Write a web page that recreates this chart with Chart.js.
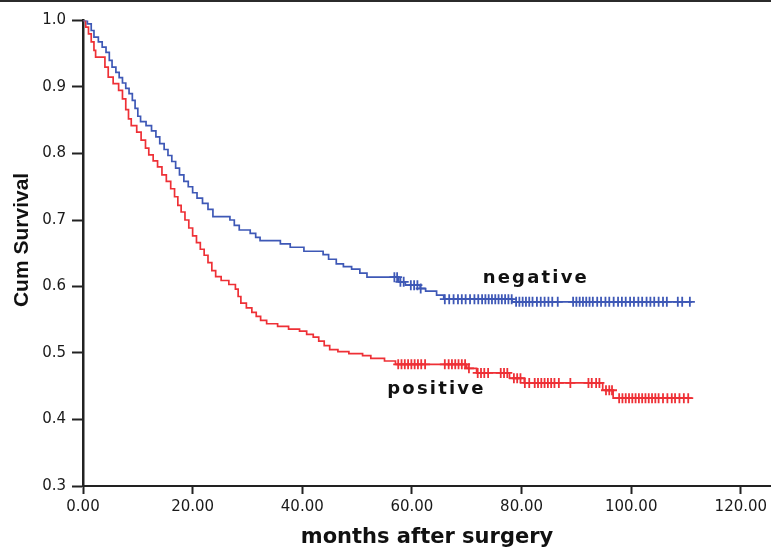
<!DOCTYPE html>
<html>
<head>
<meta charset="utf-8">
<script src="https://cdn.jsdelivr.net/npm/chart.js@4.4.1/dist/chart.umd.min.js"></script>
<style>
  html, body { margin: 0; padding: 0; background: #ffffff; overflow: hidden; }
  #wrap { width: 771px; height: 549px; position: relative; }
</style>
</head>
<body>
<div id="wrap"><canvas id="c" width="771" height="549"></canvas></div>
<script>
// ---- Data ----
const negTimes = [0, 0.8, 1.5, 2.0, 2.8, 3.5, 4.2, 4.8, 5.3, 6.0, 6.6, 7.2, 7.8, 8.4, 9.0, 9.5, 10.0, 10.5, 11.5, 12.5, 13.3, 14.0, 14.8, 15.5, 16.2, 16.9, 17.6, 18.4, 19.2, 20.0, 20.8, 21.8, 22.8, 23.7, 26.8, 27.6, 28.5, 30.5, 31.5, 32.3, 36.0, 37.8, 40.3, 43.8, 44.8, 46.2, 47.5, 49.0, 50.5, 51.8, 57.6, 58.8, 61.5, 62.5, 64.5, 65.8, 78.3, 111.1];
const negSurv  = [1.0, 0.995, 0.985, 0.975, 0.968, 0.960, 0.952, 0.940, 0.930, 0.922, 0.914, 0.906, 0.898, 0.890, 0.880, 0.868, 0.856, 0.848, 0.842, 0.834, 0.825, 0.815, 0.806, 0.797, 0.788, 0.778, 0.768, 0.758, 0.750, 0.741, 0.733, 0.725, 0.716, 0.705, 0.700, 0.692, 0.685, 0.680, 0.674, 0.669, 0.664, 0.659, 0.653, 0.648, 0.641, 0.634, 0.630, 0.626, 0.620, 0.614, 0.607, 0.602, 0.597, 0.593, 0.587, 0.581, 0.577, 0.577];

const posTimes = [0, 0.5, 1.0, 1.5, 2.0, 2.3, 4.0, 4.6, 5.5, 6.5, 7.2, 7.8, 8.3, 8.8, 9.8, 10.6, 11.4, 12.0, 12.8, 13.6, 14.4, 15.2, 16.0, 16.7, 17.3, 17.9, 18.6, 19.3, 20.0, 20.7, 21.4, 22.1, 22.8, 23.5, 24.2, 25.2, 26.6, 27.8, 28.3, 28.8, 29.8, 30.8, 31.6, 32.4, 33.5, 35.5, 37.5, 39.5, 40.8, 42.0, 43.0, 44.0, 45.0, 46.5, 48.5, 51.0, 52.5, 55.0, 57.0, 70.0, 71.8, 77.8, 80.5, 94.8, 96.7, 111.1];
const posSurv  = [1.0, 0.990, 0.980, 0.968, 0.955, 0.945, 0.930, 0.915, 0.905, 0.895, 0.882, 0.866, 0.852, 0.842, 0.832, 0.820, 0.808, 0.798, 0.789, 0.780, 0.768, 0.758, 0.747, 0.735, 0.722, 0.712, 0.700, 0.688, 0.676, 0.666, 0.656, 0.647, 0.636, 0.624, 0.615, 0.609, 0.603, 0.596, 0.585, 0.575, 0.568, 0.561, 0.555, 0.549, 0.544, 0.540, 0.536, 0.533, 0.528, 0.524, 0.518, 0.511, 0.505, 0.502, 0.499, 0.496, 0.492, 0.488, 0.483, 0.477, 0.470, 0.462, 0.455, 0.444, 0.432, 0.432];

// censored observation times (the "+" marks)
const negCensor = [56.8, 57.3, 57.9, 58.5, 59.8, 60.4, 61.0, 61.6, 66.0, 66.8, 67.6, 68.4, 69.1, 69.8, 70.6, 71.4, 72.1, 72.8, 73.4, 74.0, 74.6, 75.2, 75.8, 76.4, 77.0, 77.6, 78.2, 79.0, 79.6, 80.2, 80.8, 81.4, 82.0, 82.8, 83.5, 84.2, 84.9, 85.6, 86.6, 89.4, 90.0, 90.6, 91.2, 91.8, 92.4, 93.0, 93.8, 94.5, 95.3, 96.0, 96.8, 97.6, 98.3, 99.0, 99.8, 100.5, 101.3, 102.0, 102.8, 103.5, 104.2, 105.0, 105.8, 106.5, 108.5, 109.3, 110.7];
const posCensor = [57.5, 58.1, 58.7, 59.3, 59.9, 60.5, 61.1, 61.7, 62.4, 66.0, 66.7, 67.3, 67.9, 68.5, 69.1, 69.7, 70.4, 72.0, 72.6, 73.2, 73.9, 76.2, 76.8, 77.4, 78.6, 79.2, 79.8, 80.6, 81.4, 82.4, 83.0, 83.6, 84.2, 84.8, 85.4, 86.0, 86.8, 88.9, 92.2, 92.8, 93.6, 94.2, 95.4, 96.0, 96.5, 97.8, 98.4, 99.0, 99.6, 100.2, 100.8, 101.4, 102.0, 102.6, 103.2, 103.8, 104.4, 105.0, 105.8, 106.6, 107.4, 108.0, 108.8, 109.6, 110.4];

const xTickValues = [0, 20, 40, 60, 80, 100, 120];
const yTickValues = [0.3, 0.4, 0.5, 0.6, 0.7, 0.8, 0.9, 1.0];

const curveLabels = ['negative', 'positive'];
const curveLabelX = [72.9, 55.5];
const curveLabelY = [0.605, 0.438];

const xTitle = 'months after surgery';
const yTitle = 'Cum Survival';

// ---- helpers ----
function toPoints(ts, ss) { return ts.map((t, i) => ({ x: t, y: ss[i] })); }
function survAt(ts, ss, t) {
  let v = ss[0];
  for (let i = 0; i < ts.length; i++) { if (ts[i] <= t) v = ss[i]; else break; }
  return v;
}
function censorPoints(cs, ts, ss) { return cs.map(t => ({ x: t, y: survAt(ts, ss, t) })); }

const BLUE = 'rgb(62,88,182)';
const RED = 'rgb(238,48,54)';

const extras = {
  id: 'extras',
  afterDraw(chart) {
    const ctx = chart.ctx;
    const xs = chart.scales.x, ys = chart.scales.y;
    ctx.save();
    // top frame line
    ctx.fillStyle = '#2b2b2b';
    ctx.fillRect(0, 0, chart.width, 2);
    // curve labels
    ctx.fillStyle = '#111';
    ctx.font = 'bold 18px "DejaVu Sans"';
    try { ctx.letterSpacing = '2.2px'; } catch (e) {}
    ctx.textAlign = 'left';
    ctx.textBaseline = 'alphabetic';
    curveLabels.forEach((t, i) => {
      ctx.fillText(t, xs.getPixelForValue(curveLabelX[i]), ys.getPixelForValue(curveLabelY[i]));
    });
    try { ctx.letterSpacing = '0px'; } catch (e) {}
    // y axis title
    ctx.translate(22, ys.getPixelForValue(0.67));
    ctx.rotate(-Math.PI / 2);
    ctx.font = 'bold 21px "Liberation Sans"';
    ctx.textAlign = 'center';
    ctx.textBaseline = 'middle';
    ctx.fillText(yTitle, 0, 0);
    ctx.restore();
  }
};

new Chart(document.getElementById('c'), {
  type: 'scatter',
  data: {
    datasets: [
      { label: 'negative', data: toPoints(negTimes, negSurv), showLine: true, stepped: true,
        borderColor: BLUE, borderWidth: 1.7, pointRadius: 0, fill: false },
      { label: 'positive', data: toPoints(posTimes, posSurv), showLine: true, stepped: true,
        borderColor: RED, borderWidth: 1.7, pointRadius: 0, fill: false },
      { label: 'negative censored', data: censorPoints(negCensor, negTimes, negSurv), showLine: false,
        pointStyle: 'cross', pointRadius: 5, borderColor: BLUE, backgroundColor: BLUE, pointBorderWidth: 1.8 },
      { label: 'positive censored', data: censorPoints(posCensor, posTimes, posSurv), showLine: false,
        pointStyle: 'cross', pointRadius: 5, borderColor: RED, backgroundColor: RED, pointBorderWidth: 1.8 }
    ]
  },
  options: {
    responsive: false,
    animation: false,
    devicePixelRatio: 1,
    layout: { autoPadding: false, padding: { top: 20.5, right: 0, left: 0, bottom: 0 } },
    plugins: { legend: { display: false }, tooltip: { enabled: false } },
    scales: {
      x: {
        type: 'linear', min: 0, max: 125.5,
        afterBuildTicks: s => { s.ticks = xTickValues.map(v => ({ value: v })); },
        afterFit: s => { s.height = 63; s.paddingRight = 0; s.paddingLeft = 0; },
        ticks: { includeBounds: false, padding: 4, color: '#1a1a1a', font: { family: '"DejaVu Sans"', size: 15 },
                 callback: v => Number(v).toFixed(2), maxRotation: 0, autoSkip: false },
        grid: { drawOnChartArea: false, drawTicks: true, tickLength: 8, tickWidth: 2, color: '#222' },
        border: { display: true, color: '#222', width: 2 },
        title: { display: true, text: xTitle, color: '#111', padding: 0,
                 font: { family: '"DejaVu Sans"', size: 21, weight: 'bold', lineHeight: 1.1 } }
      },
      y: {
        type: 'linear', min: 0.3, max: 1.0,
        afterBuildTicks: s => { s.ticks = yTickValues.map(v => ({ value: v })); },
        afterFit: s => { s.width = 83; },
        ticks: { padding: 6, color: '#1a1a1a', font: { family: '"DejaVu Sans"', size: 15 },
                 callback: v => Number(v).toFixed(1) },
        grid: { drawOnChartArea: false, drawTicks: true, tickLength: 11, tickWidth: 2, color: '#222' },
        border: { display: true, color: '#222', width: 2.5 },
        title: { display: false, text: yTitle }
      }
    }
  },
  plugins: [extras]
});
</script>
</body>
</html>
